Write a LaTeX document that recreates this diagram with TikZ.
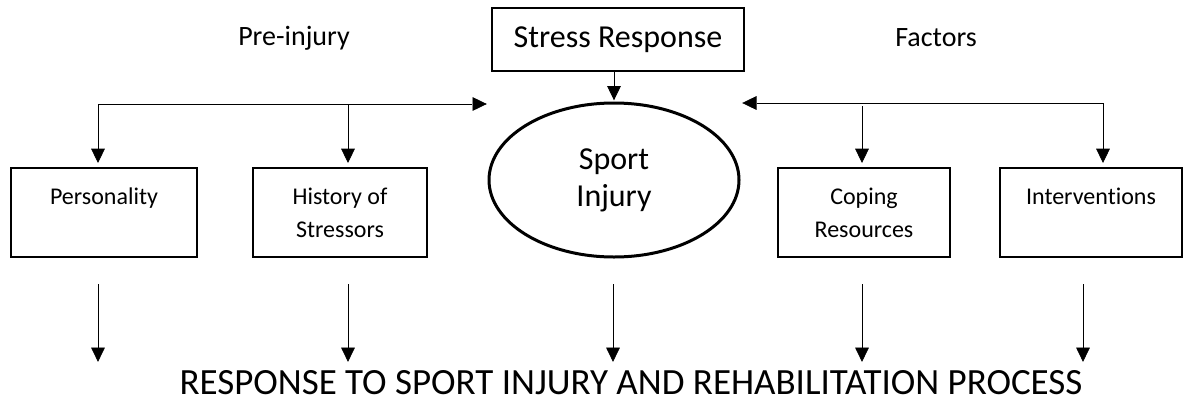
\documentclass[tikz,border=0pt]{standalone}
\usepackage{fontspec}
\setmainfont{Carlito}[Ligatures=NoCommon]
\usetikzlibrary{arrows.meta}
\usetikzlibrary{shapes.geometric}
\usetikzlibrary{calc}
\usetikzlibrary{positioning}

\begin{document}
\begin{tikzpicture}[x=0.5pt, y=-0.5pt]
\tikzset{
  fbox/.style={draw, rectangle, align=center, inner sep=0pt, line width=0.8pt,
    minimum height=44.5pt, font=\fontsize{12}{16.5}\selectfont},
  topbox/.style={draw, rectangle, align=center, inner sep=0pt, line width=0.8pt,
    minimum width=126pt, minimum height=31.5pt, font=\fontsize{16}{19}\selectfont},
  injury/.style={draw, ellipse, align=center, inner sep=0pt, line width=1.5pt,
    minimum width=125pt, minimum height=77pt, font=\fontsize{16}{18.5}\selectfont},
  side/.style={font=\fontsize{14}{17}\selectfont},
  result/.style={inner sep=0pt, anchor=base, font=\fontsize{18.5}{22}\selectfont},
}
%
\tikzset{>={Triangle[length=8pt,width=7.5pt]}, line width=0.9pt}

       \useasboundingbox (0,0) rectangle (1183,402);

       \node [topbox] (stress) at (618, 39.5) {Stress Response};
       \node [side] (pre) at (294, 38) {Pre-injury};
       \node [side] (fac) at (936, 38) {Factors};

       \node [injury] (sport) at (614, 180) {Sport\\Injury};

       \node [fbox, minimum width=93pt] (pers) at (104, 212.5) {Personality\\\mbox{}};
       \node [fbox, minimum width=87pt] (hist) at (340, 212.5) {History of\\Stressors};
       \node [fbox, minimum width=86pt] (cope) at (864, 212.5) {Coping\\Resources};
       \node [fbox, minimum width=91pt] (inter) at (1091, 212.5) {Interventions\\\mbox{}};

       \node [result] (resp) at (631, 394)
       {RESPONSE TO SPORT INJURY AND REHABILITATION PROCESS};

       % pre-injury branch
       \coordinate (lsplit) at (98, 104);
       \coordinate (lmid) at (348, 104);
       \coordinate (ltip) at (488, 104);
       \draw[->] (lsplit) -- (ltip);
       \draw[->, shorten >=1.5pt] (lsplit) -- (lsplit |- pers.north);
       \draw[->, shorten >=1.5pt] (lmid) -- (lmid |- hist.north);

       % factors branch
       \coordinate (rsplit) at (1103, 103);
       \coordinate (rmid) at (862, 103);
       \coordinate (rtip) at (741, 103);
       \draw[->] (rsplit) -- (rtip);
       \draw[->, shorten >=1.5pt] (rsplit) -- (rsplit |- inter.north);
       \draw[->, shorten >=1.5pt] ($(rmid)+(0,3)$) -- (rmid |- cope.north);

       \draw[->] (stress.south -| sport.north) -- (sport.north);

       % down to the response
       \foreach \xx/\nm in {98/a, 348/b, 613/c, 862/d, 1083/e}{
         \coordinate (dn\nm) at (\xx, 284);
         \draw[->, shorten >=3pt] (dn\nm) -- (dn\nm |- resp.north);
       }

\end{tikzpicture}
\end{document}
